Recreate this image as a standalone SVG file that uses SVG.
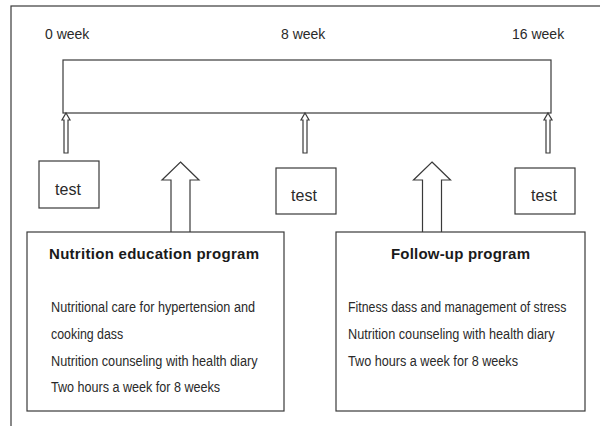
<svg xmlns="http://www.w3.org/2000/svg" width="600" height="426" viewBox="0 0 600 426">
<style>
.ln{fill:#fff;stroke:#3a3a3a;stroke-width:1.2}
.wk{font-family:"Liberation Sans",Arial,sans-serif;font-size:14px;fill:#2a2a2a}
.ts{font-family:"Liberation Sans",Arial,sans-serif;font-size:16px;fill:#2a2a2a;text-anchor:middle}
.ti{font-family:"Liberation Sans",Arial,sans-serif;font-size:15px;font-weight:bold;fill:#1a1a1a}
.bd{font-family:"Liberation Sans",Arial,sans-serif;font-size:15px;fill:#2a2a2a}
</style>
<defs>
<path id="thin" d="M0,0 L4,7 L2,7 L2,40 L-2,40 L-2,7 L-4,7 Z"/>
<path id="big" d="M0,0 L18.5,18 L9.5,18 L9.5,75 L-9.5,75 L-9.5,18 L-18.5,18 Z"/>
</defs>
<rect x="0" y="0" width="600" height="426" fill="#fff"/>
<rect x="11" y="6" width="600" height="430" fill="none" stroke="#3a3a3a" stroke-width="1.2"/>
<g id="timeline">
<rect class="ln" x="63" y="60" width="488" height="53"/>
<text class="wk" x="45" y="39">0 week</text>
<text class="wk" x="281" y="39">8 week</text>
<text class="wk" x="512" y="39">16 week</text>
</g>
<g id="connectors">
<use href="#thin" class="ln" x="66" y="113"/>
<use href="#thin" class="ln" x="305" y="113"/>
<use href="#thin" class="ln" x="548" y="113"/>
<use href="#big" class="ln" x="180.5" y="162"/>
<use href="#big" class="ln" x="432" y="162"/>
</g>
<g id="test1">
<rect class="ln" x="39" y="161" width="60" height="47"/>
<text class="ts" x="68" y="195">test</text>
</g>
<g id="test2">
<rect class="ln" x="276" y="168" width="60" height="46"/>
<text class="ts" x="304" y="201">test</text>
</g>
<g id="test3">
<rect class="ln" x="515" y="168" width="60" height="46"/>
<text class="ts" x="544" y="201">test</text>
</g>
<g id="nutrition">
<rect class="ln" x="27" y="232" width="257" height="179"/>
<text class="ti" x="49" y="259" textLength="210" lengthAdjust="spacing">Nutrition education program</text>
<text class="bd" transform="translate(51,312) scale(0.85,1)" textLength="240" lengthAdjust="spacingAndGlyphs">Nutritional care for hypertension and</text>
<text class="bd" transform="translate(51,339) scale(0.85,1)" textLength="85" lengthAdjust="spacingAndGlyphs">cooking dass</text>
<text class="bd" transform="translate(51,366) scale(0.85,1)" textLength="243" lengthAdjust="spacingAndGlyphs">Nutrition counseling with health diary</text>
<text class="bd" transform="translate(51,392) scale(0.85,1)" textLength="199" lengthAdjust="spacingAndGlyphs">Two hours a week for 8 weeks</text>
</g>
<g id="followup">
<rect class="ln" x="336" y="232" width="249" height="179"/>
<text class="ti" x="391" y="259" textLength="139" lengthAdjust="spacing">Follow-up program</text>
<text class="bd" transform="translate(348,312) scale(0.85,1)" textLength="257" lengthAdjust="spacingAndGlyphs">Fitness dass and management of stress</text>
<text class="bd" transform="translate(348,339) scale(0.85,1)" textLength="243" lengthAdjust="spacingAndGlyphs">Nutrition counseling with health diary</text>
<text class="bd" transform="translate(348,366) scale(0.85,1)" textLength="200" lengthAdjust="spacingAndGlyphs">Two hours a week for 8 weeks</text>
</g>
</svg>
